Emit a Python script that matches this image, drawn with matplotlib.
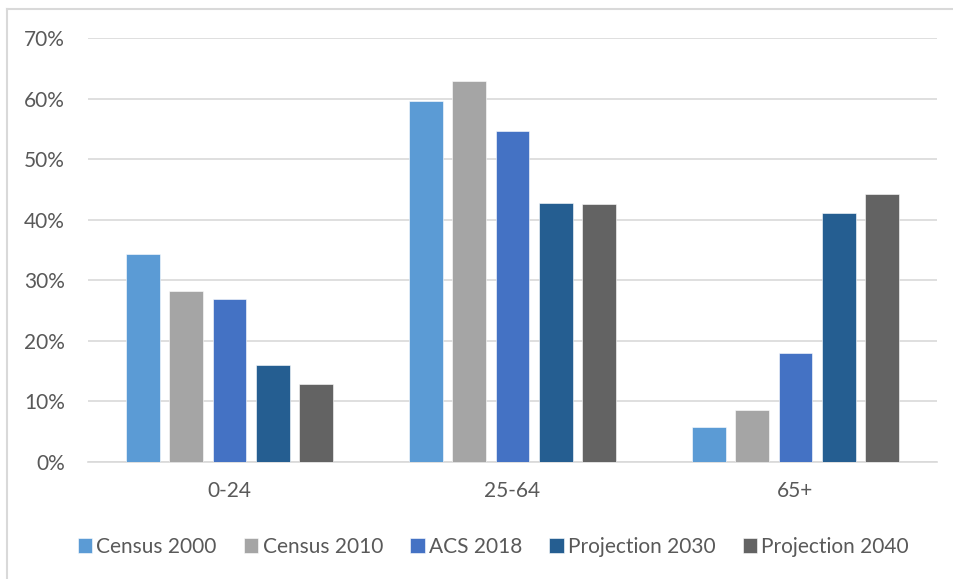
import numpy as np
import matplotlib
matplotlib.use("Agg")
from matplotlib import pyplot as plt
from matplotlib.lines import Line2D

# %% Data
age_groups = ["0-24", "25-64", "65+"]
series = ["Census 2000", "Census 2010", "ACS 2018", "Projection 2030", "Projection 2040"]
census_2000 = [34.4, 59.7, 5.7]
census_2010 = [28.2, 62.9, 8.5]
acs_2018 = [26.9, 54.7, 18.0]
proj_2030 = [15.9, 42.7, 41.1]
proj_2040 = [12.9, 42.6, 44.3]
y_ticks = [0, 10, 20, 30, 40, 50, 60, 70]

colors = ["#5B9BD5", "#A5A5A5", "#4472C4", "#255E91", "#636363"]
text_color = "#595959"
grid_color = "#D9D9D9"

plt.rcParams['font.family'] = ['Lato', 'DejaVu Sans']

# %% Plot
fig = plt.figure(figsize=(9.54, 5.79), dpi=100)
ax = fig.add_axes([88 / 954, 1 - 461.5 / 579, (937 - 88) / 954, (461.5 - 38.3) / 579])

x = np.arange(len(age_groups))
step = 0.1534
width = 0.12
values = [census_2000, census_2010, acs_2018, proj_2030, proj_2040]
for i, (name, vals) in enumerate(zip(series, values)):
    ax.bar(x + (i - 2) * step, vals, width, color=colors[i], label=name,
           edgecolor="white", linewidth=0.4, zorder=3)

ax.set_xlim(-0.5, 2.5)
ax.set_ylim(0, 70)
ax.set_yticks(y_ticks)
ax.set_yticklabels([f"{t}%" for t in y_ticks])
ax.set_xticks(x)
ax.set_xticklabels(age_groups)
ax.yaxis.grid(True, color=grid_color, linewidth=1.2, zorder=0)
for s in ["top", "right", "left"]:
    ax.spines[s].set_visible(False)
ax.spines["bottom"].set_color(grid_color)
ax.spines["bottom"].set_linewidth(1.2)
ax.tick_params(axis="both", length=0, labelsize=15, colors=text_color)
ax.tick_params(axis="y", pad=16.5)
ax.tick_params(axis="x", pad=14)

fig.legend(loc="center", bbox_to_anchor=(0.517, 1 - 547 / 579), ncol=5,
           frameon=False, fontsize=15, labelcolor=text_color,
           handlelength=0.7, handleheight=0.7, handletextpad=0.2,
           columnspacing=1.3)

# chart frame (left and top edges)
fig.add_artist(Line2D([7.5 / 954, 7.5 / 954], [0, 1 - 8.5 / 579],
                      color=grid_color, linewidth=1.5, transform=fig.transFigure))
fig.add_artist(Line2D([7.5 / 954, 1], [1 - 8.5 / 579, 1 - 8.5 / 579],
                      color=grid_color, linewidth=1.5, transform=fig.transFigure))

fig.savefig("out.png", dpi=100)
